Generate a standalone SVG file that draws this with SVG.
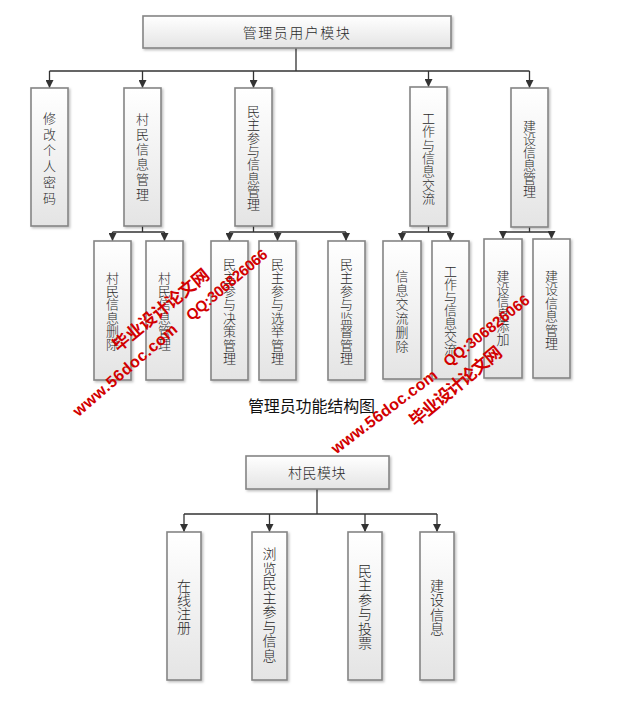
<svg xmlns="http://www.w3.org/2000/svg" width="621" height="722" viewBox="0 0 621 722">
<style>
.box{fill:url(#g);stroke:#858585;stroke-width:1.6;filter:url(#sh)}
.lbl{font-family:"Noto Sans CJK SC","Liberation Sans",sans-serif;font-size:13px;font-weight:300;fill:#2a2a2a;text-anchor:middle;dominant-baseline:central}
.big{font-size:14px}
.ttl{font-family:"Noto Sans CJK SC","Liberation Sans",sans-serif;font-size:14px;font-weight:300;fill:#2a2a2a;text-anchor:middle;dominant-baseline:central;letter-spacing:1.5px}
.cap{font-family:"Noto Sans CJK SC","Liberation Sans",sans-serif;font-size:16px;fill:#111;dominant-baseline:central}
.ln{fill:none;stroke:#333;stroke-width:1.3}
.ar{marker-end:url(#ah)}
.wm{font-family:"Liberation Sans","Noto Sans CJK SC",sans-serif;font-weight:bold;fill:#d20000;dominant-baseline:central}
</style>
<defs>
<linearGradient id="g" x1="0" y1="0" x2="0" y2="1">
<stop offset="0" stop-color="#ffffff"/>
<stop offset="1" stop-color="#e4e4e4"/>
</linearGradient>
<filter id="sh" x="-20%" y="-20%" width="150%" height="150%">
<feDropShadow dx="1.5" dy="1.5" stdDeviation="1" flood-color="#000" flood-opacity="0.25"/>
</filter>
<marker id="ah" markerUnits="userSpaceOnUse" viewBox="0 0 8 8" refX="8" refY="4" markerWidth="8" markerHeight="8" orient="auto">
<path d="M0,0 L8,4 L0,8 z" fill="#333"/>
</marker>
</defs>
<rect width="621" height="722" fill="#fff"/>

<g id="connectors">
<path class="ln" d="M296,48 V71 M49.5,71 H529.5"/>
<path class="ln ar" d="M49.5,71 V88"/>
<path class="ln ar" d="M142.5,71 V88"/>
<path class="ln ar" d="M253.5,71 V88"/>
<path class="ln ar" d="M428.5,71 V87"/>
<path class="ln ar" d="M529.5,71 V88"/>
<path class="ln" d="M142.5,226 V232 M112.5,232 H164.5"/>
<path class="ln ar" d="M112.5,232 V241"/>
<path class="ln ar" d="M164.5,232 V241"/>
<path class="ln" d="M253.5,226 V232 M229.5,232 H346"/>
<path class="ln ar" d="M229.5,232 V241"/>
<path class="ln ar" d="M277.5,232 V241"/>
<path class="ln ar" d="M346,232 V241"/>
<path class="ln" d="M428.5,226 V232 M402,232 H450.5"/>
<path class="ln ar" d="M402,232 V241"/>
<path class="ln ar" d="M450.5,232 V241"/>
<path class="ln" d="M529.5,227 V232 M503,232 H551.5"/>
<path class="ln ar" d="M503,232 V239"/>
<path class="ln ar" d="M551.5,232 V239"/>
<path class="ln" d="M317,489 V514 M184,514 H437"/>
<path class="ln ar" d="M184,514 V532"/>
<path class="ln ar" d="M269.5,514 V532"/>
<path class="ln ar" d="M365,514 V532"/>
<path class="ln ar" d="M437,514 V532"/>
</g>

<g id="n-admin">
<rect class="box" x="143" y="16" width="308" height="32"/>
<text class="ttl" x="297" y="32">管理员用户模块</text>
</g>

<g id="n-pwd">
<rect class="box" x="31" y="88" width="37" height="138"/>
<text class="lbl"><tspan x="49.5" y="117">修</tspan><tspan x="49.5" y="133">改</tspan><tspan x="49.5" y="149">个</tspan><tspan x="49.5" y="165">人</tspan><tspan x="49.5" y="181">密</tspan><tspan x="49.5" y="197">码</tspan></text>
</g>

<g id="n-villager-info">
<rect class="box" x="124" y="88" width="37" height="138"/>
<text class="lbl"><tspan x="142.5" y="118">村</tspan><tspan x="142.5" y="133">民</tspan><tspan x="142.5" y="148">信</tspan><tspan x="142.5" y="163">息</tspan><tspan x="142.5" y="178">管</tspan><tspan x="142.5" y="193">理</tspan></text>
</g>

<g id="n-democracy">
<rect class="box" x="235" y="88" width="37" height="138"/>
<text class="lbl"><tspan x="253.5" y="110">民</tspan><tspan x="253.5" y="123.3">主</tspan><tspan x="253.5" y="136.6">参</tspan><tspan x="253.5" y="150">与</tspan><tspan x="253.5" y="163.3">信</tspan><tspan x="253.5" y="176.6">息</tspan><tspan x="253.5" y="190">管</tspan><tspan x="253.5" y="203.3">理</tspan></text>
</g>

<g id="n-work">
<rect class="box" x="410" y="87" width="37" height="139"/>
<text class="lbl"><tspan x="428.5" y="117">工</tspan><tspan x="428.5" y="130.3">作</tspan><tspan x="428.5" y="143.7">与</tspan><tspan x="428.5" y="157">信</tspan><tspan x="428.5" y="170.3">息</tspan><tspan x="428.5" y="183.7">交</tspan><tspan x="428.5" y="197">流</tspan></text>
</g>

<g id="n-build">
<rect class="box" x="511" y="88" width="37" height="139"/>
<text class="lbl"><tspan x="529.5" y="125">建</tspan><tspan x="529.5" y="138">设</tspan><tspan x="529.5" y="151">信</tspan><tspan x="529.5" y="164">息</tspan><tspan x="529.5" y="177">管</tspan><tspan x="529.5" y="190">理</tspan></text>
</g>

<g id="n-vi-del">
<rect class="box" x="94" y="241" width="37" height="139"/>
<text class="lbl"><tspan x="112.5" y="277">村</tspan><tspan x="112.5" y="290.2">民</tspan><tspan x="112.5" y="303.4">信</tspan><tspan x="112.5" y="316.6">息</tspan><tspan x="112.5" y="329.8">删</tspan><tspan x="112.5" y="343">除</tspan></text>
</g>

<g id="n-vi-mgr">
<rect class="box" x="146" y="241" width="37" height="139"/>
<text class="lbl"><tspan x="164.5" y="277">村</tspan><tspan x="164.5" y="290.2">民</tspan><tspan x="164.5" y="303.4">信</tspan><tspan x="164.5" y="316.6">息</tspan><tspan x="164.5" y="329.8">管</tspan><tspan x="164.5" y="343">理</tspan></text>
</g>

<g id="n-dem-decision">
<rect class="box" x="211" y="241" width="37" height="139"/>
<text class="lbl"><tspan x="229.5" y="263">民</tspan><tspan x="229.5" y="276.4">主</tspan><tspan x="229.5" y="289.9">参</tspan><tspan x="229.5" y="303.3">与</tspan><tspan x="229.5" y="316.7">决</tspan><tspan x="229.5" y="330.1">策</tspan><tspan x="229.5" y="343.6">管</tspan><tspan x="229.5" y="357">理</tspan></text>
</g>

<g id="n-dem-election">
<rect class="box" x="259" y="241" width="37" height="139"/>
<text class="lbl"><tspan x="277.5" y="263">民</tspan><tspan x="277.5" y="276.4">主</tspan><tspan x="277.5" y="289.9">参</tspan><tspan x="277.5" y="303.3">与</tspan><tspan x="277.5" y="316.7">选</tspan><tspan x="277.5" y="330.1">举</tspan><tspan x="277.5" y="343.6">管</tspan><tspan x="277.5" y="357">理</tspan></text>
</g>

<g id="n-dem-supervision">
<rect class="box" x="328" y="241" width="37" height="139"/>
<text class="lbl"><tspan x="346.5" y="263">民</tspan><tspan x="346.5" y="276.4">主</tspan><tspan x="346.5" y="289.9">参</tspan><tspan x="346.5" y="303.3">与</tspan><tspan x="346.5" y="316.7">监</tspan><tspan x="346.5" y="330.1">督</tspan><tspan x="346.5" y="343.6">管</tspan><tspan x="346.5" y="357">理</tspan></text>
</g>

<g id="n-work-del">
<rect class="box" x="383" y="241" width="38" height="138"/>
<text class="lbl"><tspan x="402" y="275">信</tspan><tspan x="402" y="289">息</tspan><tspan x="402" y="303">交</tspan><tspan x="402" y="317">流</tspan><tspan x="402" y="331">删</tspan><tspan x="402" y="345">除</tspan></text>
</g>

<g id="n-work-ex">
<rect class="box" x="432" y="241" width="37" height="138"/>
<text class="lbl"><tspan x="450.5" y="270">工</tspan><tspan x="450.5" y="283">作</tspan><tspan x="450.5" y="296">与</tspan><tspan x="450.5" y="309">信</tspan><tspan x="450.5" y="322">息</tspan><tspan x="450.5" y="335">交</tspan><tspan x="450.5" y="348">流</tspan></text>
</g>

<g id="n-build-add">
<rect class="box" x="484" y="239" width="38" height="139"/>
<text class="lbl"><tspan x="503" y="275">建</tspan><tspan x="503" y="287.6">设</tspan><tspan x="503" y="300.2">信</tspan><tspan x="503" y="312.8">息</tspan><tspan x="503" y="325.4">添</tspan><tspan x="503" y="338">加</tspan></text>
</g>

<g id="n-build-mgr">
<rect class="box" x="533" y="239" width="37" height="139"/>
<text class="lbl"><tspan x="551.5" y="275">建</tspan><tspan x="551.5" y="288.4">设</tspan><tspan x="551.5" y="301.8">信</tspan><tspan x="551.5" y="315.2">息</tspan><tspan x="551.5" y="328.6">管</tspan><tspan x="551.5" y="342">理</tspan></text>
</g>

<text id="caption1" class="cap" x="248" y="405" textLength="127">管理员功能结构图</text>

<g id="n-villager">
<rect class="box" x="246" y="456" width="143" height="33"/>
<text class="ttl" x="317" y="472" style="letter-spacing:0.5px">村民模块</text>
</g>

<g id="n-register">
<rect class="box" x="167" y="532" width="34" height="148"/>
<text class="lbl big"><tspan x="184" y="585">在</tspan><tspan x="184" y="599">线</tspan><tspan x="184" y="613">注</tspan><tspan x="184" y="627">册</tspan></text>
</g>

<g id="n-browse">
<rect class="box" x="252" y="532" width="35" height="148"/>
<text class="lbl big"><tspan x="269.5" y="553">浏</tspan><tspan x="269.5" y="567.6">览</tspan><tspan x="269.5" y="582.1">民</tspan><tspan x="269.5" y="596.7">主</tspan><tspan x="269.5" y="611.3">参</tspan><tspan x="269.5" y="625.9">与</tspan><tspan x="269.5" y="640.4">信</tspan><tspan x="269.5" y="655">息</tspan></text>
</g>

<g id="n-vote">
<rect class="box" x="348" y="532" width="34" height="148"/>
<text class="lbl big"><tspan x="365" y="570">民</tspan><tspan x="365" y="584.4">主</tspan><tspan x="365" y="598.8">参</tspan><tspan x="365" y="613.2">与</tspan><tspan x="365" y="627.6">投</tspan><tspan x="365" y="642">票</tspan></text>
</g>

<g id="n-buildinfo">
<rect class="box" x="420" y="532" width="34" height="148"/>
<text class="lbl big"><tspan x="437" y="585">建</tspan><tspan x="437" y="599.3">设</tspan><tspan x="437" y="613.7">信</tspan><tspan x="437" y="628">息</tspan></text>
</g>

<g id="watermarks">
<text class="wm" font-size="16" textLength="132" transform="translate(75,413) rotate(-40.7)">www.56doc.com</text>
<text class="wm" font-size="17" textLength="119" transform="translate(115,348) rotate(-39.2)">毕业设计论文网</text>
<text class="wm" font-size="15" textLength="101" transform="translate(188,317) rotate(-40.2)">QQ:306826066</text>
<text class="wm" font-size="16" textLength="128" transform="translate(333,450) rotate(-37)">www.56doc.com</text>
<text class="wm" font-size="17" textLength="114" transform="translate(412,423) rotate(-39.7)">毕业设计论文网</text>
<text class="wm" font-size="15" textLength="105" transform="translate(445,363) rotate(-38.4)">QQ:306826066</text>
</g>
</svg>
